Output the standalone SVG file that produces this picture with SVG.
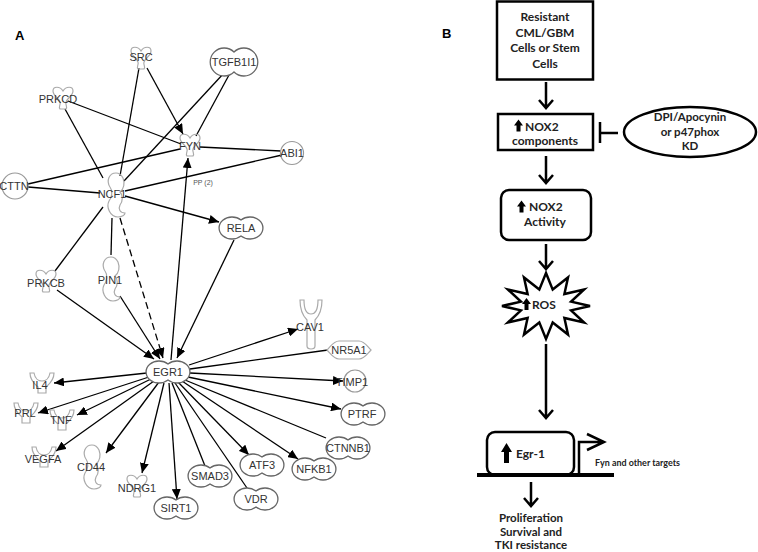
<svg xmlns="http://www.w3.org/2000/svg" xmlns:xlink="http://www.w3.org/1999/xlink" width="758" height="552" viewBox="0 0 758 552">
<style>
.lbl{font-family:"Liberation Sans",Arial,sans-serif;font-size:11px;fill:#333;text-anchor:middle}
.pl{font-family:"Liberation Sans",Arial,sans-serif;font-size:13px;font-weight:bold;fill:#000}
.tr{fill:#fff;stroke:#666;stroke-width:1.3}
.lt{fill:none;stroke:#aaa;stroke-width:1.2}
.cir{fill:#fff;stroke:#999;stroke-width:1.2}
.e{fill:none;stroke:#000;stroke-width:1.3}
.ea{fill:none;stroke:#000;stroke-width:1.3;marker-end:url(#ah)}
.b{font-family:Lato,"Open Sans",sans-serif;font-weight:bold;font-size:12px;fill:#222;text-anchor:middle}
.bs{font-family:Lato,"Open Sans",sans-serif;font-weight:bold;font-size:12px;fill:#222;text-anchor:start}
.bx{fill:#fff;stroke:#000;stroke-width:2.5}
.ar{fill:none;stroke:#000;stroke-width:2.5;stroke-linejoin:miter}
</style>
<defs>
<marker id="ah" markerUnits="userSpaceOnUse" markerWidth="11" markerHeight="9" refX="10" refY="4.5" orient="auto"><path d="M0,0 L10,4.5 L0,9 Z" fill="#000"/></marker>
<path id="trs" d="M0,-8 A13,11 0 1 0 0,8 A13,11 0 1 0 0,-8 Z"/>
<path id="kin" d="M-10,-7 C-10,-12 -3,-12 0,-7 C3,-12 10,-12 10,-7 C10,-2 4,0 3,4 C2,7 5,9 3,11 L-3,11 C-5,9 -2,7 -3,4 C-4,0 -10,-2 -10,-7 Z"/>
<path id="cyt" d="M-12,-10 L-8,-10 C-7,-4 -3,-2 0,-2 C3,-2 7,-4 8,-10 L12,-10 C12,-2 6,2 4,4 L4,10 L-4,10 L-4,4 C-6,2 -12,-2 -12,-10 Z"/>
<path id="enz" d="M0,-22 C-7,-22 -10,-14 -6,-8 C-3,-4 -4,2 -7,6 C-10,12 -6,22 2,22 C6,22 9,20 9,18 C4,18 2,14 4,10 C7,6 7,0 4,-3 C8,-6 9,-12 7,-17 C5,-21 3,-22 0,-22 Z"/>
<polygon id="up" points="0,6 4.5,0 9,6 6.5,6 6.5,12 2.5,12 2.5,6" fill="#000"/>
</defs>
<rect width="758" height="552" fill="#fff"/>
<text class="pl" x="15" y="40">A</text>
<text class="pl" x="442" y="38">B</text>

<g id="connectors-a">
<line class="ea" x1="147" y1="68" x2="183" y2="134"/>
<line class="e" x1="139" y1="68" x2="120" y2="176"/>
<line class="e" x1="229" y1="75" x2="196" y2="136"/>
<line class="e" x1="224" y1="73" x2="124" y2="181"/>
<line class="e" x1="68" y1="101" x2="181" y2="144"/>
<line class="e" x1="65" y1="109" x2="103" y2="178"/>
<line class="e" x1="200" y1="147" x2="281" y2="151"/>
<line class="e" x1="180" y1="149" x2="28" y2="184"/>
<line class="e" x1="28" y1="187" x2="100" y2="193"/>
<line class="e" x1="125" y1="191" x2="282" y2="155" stroke-width="2.3"/>
<line class="ea" x1="125" y1="196" x2="219" y2="222"/>
<line class="e" x1="103" y1="207" x2="55" y2="271"/>
<line class="e" x1="112" y1="218" x2="111" y2="255"/>
<line class="ea" x1="120" y1="218" x2="163" y2="358" stroke-dasharray="7,4"/>
<line class="ea" x1="57" y1="290" x2="154" y2="359"/>
<line class="ea" x1="120" y1="296" x2="160" y2="359"/>
<line class="ea" x1="171" y1="360" x2="188" y2="158"/>
<line class="ea" x1="234" y1="240" x2="177" y2="358"/>
<line class="ea" x1="147" y1="373" x2="54" y2="383"/>
<line class="ea" x1="149" y1="377" x2="38" y2="413"/>
<line class="ea" x1="151" y1="379" x2="77" y2="415"/>
<line class="ea" x1="154" y1="381" x2="56" y2="451"/>
<line class="ea" x1="159" y1="382" x2="106" y2="453"/>
<line class="ea" x1="164" y1="383" x2="142" y2="473"/>
<line class="ea" x1="169" y1="383" x2="177" y2="499"/>
<line class="e" x1="172" y1="383" x2="205" y2="466"/>
<line class="e" x1="175" y1="383" x2="247" y2="488"/>
<line class="ea" x1="178" y1="382" x2="249" y2="455"/>
<line class="ea" x1="182" y1="381" x2="298" y2="459"/>
<line class="e" x1="185" y1="380" x2="326" y2="438"/>
<line class="ea" x1="188" y1="377" x2="341" y2="409"/>
<line class="ea" x1="190" y1="373" x2="343" y2="381"/>
<line class="e" x1="190" y1="369" x2="328" y2="350"/>
<line class="ea" x1="189" y1="365" x2="298" y2="329"/>
<text x="203" y="185" font-family="Liberation Sans,Arial,sans-serif" font-size="7" fill="#555" text-anchor="middle">PP (2)</text>
</g>

<g id="n-src"><use href="#kin" class="lt" x="141" y="58"/><text class="lbl" x="141" y="61">SRC</text></g>
<g id="n-tgfb1i1"><path class="tr" d="M234,52 A14,14 0 1 0 234,72 A14,14 0 1 0 234,52 Z"/><text class="lbl" x="234" y="66">TGFB1I1</text></g>
<g id="n-prkcd"><use href="#kin" class="lt" x="63" y="98"/><text class="lbl" x="58" y="103">PRKCD</text></g>
<g id="n-fyn"><use href="#kin" class="lt" x="190" y="145"/><text class="lbl" x="190" y="150">FYN</text></g>
<g id="n-abi1"><circle class="cir" cx="292" cy="153" r="11.5"/><text class="lbl" x="292" y="157">ABI1</text></g>
<g id="n-cttn"><circle class="cir" cx="15" cy="186" r="13"/><text class="lbl" x="14" y="190">CTTN</text></g>
<g id="n-ncf1"><use href="#enz" class="lt" x="116" y="195"/><text class="lbl" x="112" y="198">NCF1</text></g>
<g id="n-rela"><use href="#trs" class="tr" x="241" y="228"/><text class="lbl" x="241" y="232">RELA</text></g>
<g id="n-prkcb"><use href="#kin" class="lt" x="46" y="281"/><text class="lbl" x="46" y="287">PRKCB</text></g>
<g id="n-pin1"><use href="#enz" class="lt" x="111" y="279"/><text class="lbl" x="110" y="284">PIN1</text></g>
<g id="n-egr1"><use href="#trs" class="tr" x="168" y="372"/><text class="lbl" x="168" y="376">EGR1</text></g>
<g id="n-il4"><use href="#cyt" class="lt" x="42" y="383"/><text class="lbl" x="40" y="389">IL4</text></g>
<g id="n-prl"><use href="#cyt" class="lt" x="26" y="413"/><text class="lbl" x="25" y="417">PRL</text></g>
<g id="n-tnf"><use href="#cyt" class="lt" x="62" y="420"/><text class="lbl" x="61" y="424">TNF</text></g>
<g id="n-vegfa"><use href="#cyt" class="lt" x="44" y="457"/><text class="lbl" x="43" y="463">VEGFA</text></g>
<g id="n-cd44"><use href="#enz" class="lt" x="92" y="467"/><text class="lbl" x="91" y="471">CD44</text></g>
<g id="n-ndrg1"><use href="#kin" class="lt" x="137" y="486"/><text class="lbl" x="137" y="492">NDRG1</text></g>
<g id="n-sirt1"><use href="#trs" class="tr" x="176" y="508"/><text class="lbl" x="176" y="512">SIRT1</text></g>
<g id="n-smad3"><use href="#trs" class="tr" x="210" y="476"/><text class="lbl" x="210" y="480">SMAD3</text></g>
<g id="n-vdr"><use href="#trs" class="tr" x="256" y="499"/><text class="lbl" x="256" y="503">VDR</text></g>
<g id="n-atf3"><use href="#trs" class="tr" x="262" y="465"/><text class="lbl" x="262" y="469">ATF3</text></g>
<g id="n-nfkb1"><use href="#trs" class="tr" x="314" y="469"/><text class="lbl" x="314" y="473">NFKB1</text></g>
<g id="n-ctnnb1"><use href="#trs" class="tr" x="348" y="448"/><text class="lbl" x="348" y="452">CTNNB1</text></g>
<g id="n-ptrf"><use href="#trs" class="tr" x="363" y="414"/><text class="lbl" x="362" y="418">PTRF</text></g>
<g id="n-timp1"><circle class="cir" cx="355" cy="381" r="11"/><text class="lbl" x="352" y="386">TIMP1</text></g>
<g id="n-nr5a1"><path class="lt" d="M327,350 C331,346 334,341 339,341 L359,341 C364,341 367,346 371,350 C367,354 364,359 359,359 L339,359 C334,359 331,354 327,350 Z"/><text class="lbl" x="349" y="354">NR5A1</text></g>
<g id="n-cav1"><path class="lt" transform="translate(311,325)" d="M-11,-25 L-7,-25 C-7,-15 -4,-11 0,-11 C4,-11 7,-15 7,-25 L11,-25 C11,-13 6,-7 4,-5 L4,21 C4,25 -4,25 -4,21 L-4,-5 C-6,-7 -11,-13 -11,-25 Z"/><text class="lbl" x="310" y="331">CAV1</text></g>

<g id="connectors-b">
<path class="ar" d="M546,82 V108 M539,100 L546,108 L553,100"/>
<path class="ar" d="M600,133 H618 M600,122 V143"/>
<path class="ar" d="M546,156 V183 M539,175 L546,183 L553,175"/>
<path class="ar" d="M546,244 V269 M539,261 L546,269 L553,261"/>
<path class="ar" d="M546,344 V418 M539,410 L546,418 L553,410"/>
<path class="ar" d="M531,482 V506 M524,498 L531,506 L538,498"/>
</g>
<g id="b-resistant"><rect class="bx" x="497" y="1.5" width="96" height="78"/>
<text class="b" x="545" y="21">Resistant</text><text class="b" x="545" y="37">CML/GBM</text><text class="b" x="545" y="52">Cells or Stem</text><text class="b" x="545" y="68">Cells</text></g>
<g id="b-nox2comp"><rect class="bx" x="498" y="114" width="95" height="36"/>
<use href="#up" x="514" y="119.5"/><text class="bs" x="525" y="131">NOX2</text><text class="b" x="545" y="145">components</text></g>
<g id="b-inhib"><ellipse class="bx" cx="690" cy="132" rx="66" ry="25"/>
<text class="b" x="690" y="121" style="font-size:11.5px">DPI/Apocynin</text><text class="b" x="690" y="135.5" style="font-size:11.5px">or p47phox</text><text class="b" x="690" y="150" style="font-size:11.5px">KD</text></g>
<g id="b-nox2act"><rect class="bx" x="501" y="190" width="90" height="50" rx="8"/>
<use href="#up" x="517" y="200.5"/><text class="bs" x="529" y="211">NOX2</text><text class="b" x="545" y="226">Activity</text></g>
<g id="b-ros"><polygon class="bx" stroke-width="2" points="546,273 552.7,289.6 568,277.4 564.4,294 584.1,289.5 571.1,301.6 590,306 571.1,310.4 584.1,322.5 564.4,318 568,334.6 552.7,322.4 546,339 539.3,322.4 524,334.6 527.6,318 507.9,322.5 520.9,310.4 502,306 520.9,301.6 507.9,289.5 527.6,294 524,277.4 539.3,289.6"/>
<use href="#up" x="522" y="298"/><text class="bs" x="532" y="309">ROS</text></g>
<g id="b-egr1"><rect class="bx" x="487" y="432" width="87" height="43" rx="8"/>
<polygon points="501,452 506.5,443 512,452 509,452 509,463 504,463 504,452" fill="#000"/>
<text class="bs" x="516" y="458">Egr-1</text>
<line x1="477" y1="475" x2="614" y2="475" stroke="#000" stroke-width="4"/>
<path class="ar" stroke-width="3" d="M579,475 V442 H604 M587,434 L604,442 L587,450"/>
<text x="595" y="466" font-family="Lato,'Open Sans',sans-serif" font-weight="bold" font-size="8.5" fill="#222" textLength="85" lengthAdjust="spacingAndGlyphs">Fyn and other targets</text></g>
<g id="b-outcome"><text class="b" x="531" y="522" style="font-size:11.5px">Proliferation</text><text class="b" x="531" y="535.5" style="font-size:11.5px">Survival and</text><text class="b" x="531" y="549" style="font-size:11.5px">TKI resistance</text></g>
</svg>
